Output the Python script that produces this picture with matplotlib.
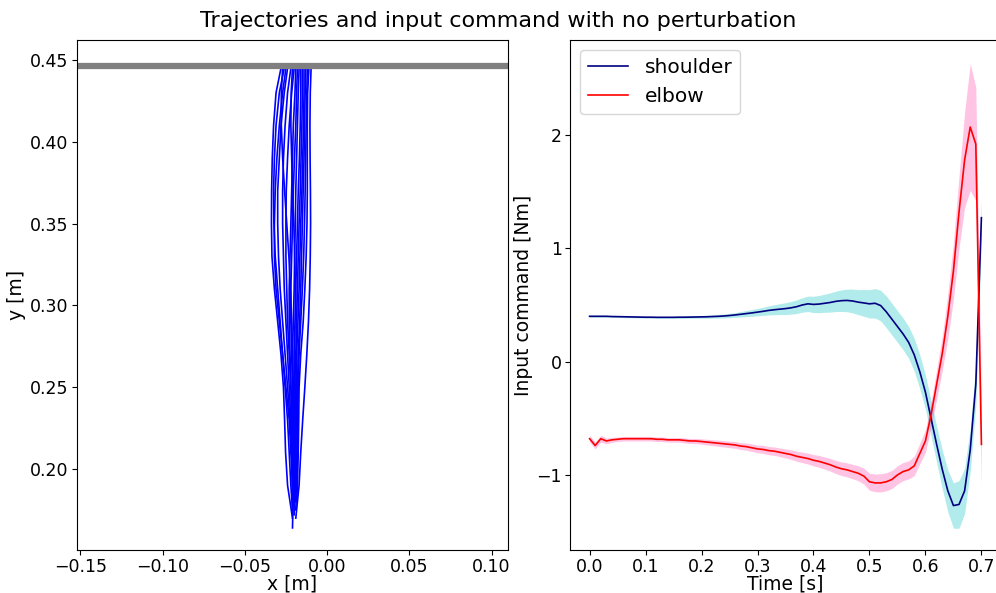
import numpy as np
import matplotlib
matplotlib.use("Agg")
import matplotlib.pyplot as plt

# ---------------- data ----------------
# Left panel: hand trajectories, x [m] read at common y levels [m], plus the start point
y_levels = [0.445, 0.43, 0.41, 0.39, 0.37, 0.35, 0.33, 0.31, 0.29, 0.27, 0.25, 0.23, 0.21, 0.19]
traj_x = [
    [-0.028, -0.031, -0.0325, -0.0333, -0.0337, -0.0338, -0.0335, -0.032, -0.030, -0.028, -0.0265, -0.0258, -0.0252, -0.024],
    [-0.026, -0.029, -0.031, -0.032, -0.0325, -0.0323, -0.0315, -0.030, -0.0285, -0.027, -0.0255, -0.024, -0.023, -0.022],
    [-0.024, -0.026, -0.028, -0.029, -0.030, -0.030, -0.0295, -0.0285, -0.027, -0.0255, -0.024, -0.0225, -0.0215, -0.021],
    [-0.022, -0.024, -0.0255, -0.0265, -0.027, -0.027, -0.0265, -0.026, -0.025, -0.024, -0.023, -0.022, -0.021, -0.0205],
    [-0.020, -0.0215, -0.023, -0.024, -0.0248, -0.025, -0.025, -0.0245, -0.024, -0.023, -0.022, -0.0215, -0.021, -0.021],
    [-0.019, -0.0195, -0.0205, -0.021, -0.0215, -0.022, -0.0225, -0.023, -0.023, -0.0225, -0.022, -0.021, -0.0205, -0.020],
    [-0.018, -0.0185, -0.019, -0.0198, -0.0205, -0.021, -0.0215, -0.022, -0.022, -0.0215, -0.021, -0.0205, -0.020, -0.0195],
    [-0.017, -0.0175, -0.018, -0.0185, -0.019, -0.0193, -0.0197, -0.020, -0.0205, -0.021, -0.021, -0.0205, -0.020, -0.020],
    [-0.016, -0.016, -0.0163, -0.0168, -0.0175, -0.018, -0.0185, -0.019, -0.0195, -0.020, -0.020, -0.020, -0.0198, -0.0195],
    [-0.015, -0.015, -0.0153, -0.0158, -0.0163, -0.017, -0.0175, -0.018, -0.0185, -0.019, -0.0197, -0.0197, -0.0193, -0.019],
    [-0.014, -0.014, -0.0143, -0.0148, -0.0153, -0.016, -0.0165, -0.017, -0.0177, -0.0185, -0.019, -0.019, -0.019, -0.019],
    [-0.013, -0.0133, -0.0137, -0.014, -0.0145, -0.015, -0.0155, -0.016, -0.0167, -0.0175, -0.018, -0.018, -0.0183, -0.019],
    [-0.012, -0.0123, -0.0127, -0.013, -0.0133, -0.0137, -0.0142, -0.015, -0.016, -0.017, -0.0175, -0.018, -0.018, -0.0185],
    [-0.0097, -0.0102, -0.0104, -0.0103, -0.0101, -0.0100, -0.0102, -0.0106, -0.0113, -0.0123, -0.0135, -0.0148, -0.0160, -0.017],
    [-0.011, -0.0118, -0.012, -0.012, -0.012, -0.0122, -0.0127, -0.0135, -0.0145, -0.016, -0.017, -0.0172, -0.0175, -0.018],
    [-0.027, -0.0278, -0.0278, -0.027, -0.0258, -0.0245, -0.0232, -0.0222, -0.0215, -0.021, -0.0205, -0.0202, -0.020, -0.020],
    [-0.021, -0.0218, -0.022, -0.0215, -0.021, -0.0202, -0.0197, -0.0192, -0.0188, -0.0185, -0.0185, -0.0187, -0.019, -0.019],
    [-0.025, -0.027, -0.029, -0.0305, -0.0315, -0.032, -0.032, -0.031, -0.029, -0.027, -0.025, -0.023, -0.022, -0.021],
]
traj_start_x = [-0.021, -0.021, -0.0205, -0.021, -0.0205, -0.020, -0.0195, -0.020, -0.020,
                -0.0195, -0.019, -0.019, -0.019, -0.019, -0.0185, -0.020, -0.0195, -0.021]
traj_start_y = [0.170, 0.175, 0.178, 0.164, 0.180, 0.182, 0.185, 0.172, 0.180,
                0.185, 0.183, 0.180, 0.175, 0.170, 0.180, 0.184, 0.185, 0.172]
target_y = 0.4461

# Right panel: input commands (mean and spread) vs time
time = np.linspace(0.0, 0.70, 71)
shoulder = [0.400, 0.400, 0.400, 0.400, 0.398, 0.397, 0.396, 0.395, 0.394, 0.393,
            0.392, 0.392, 0.391, 0.391, 0.391, 0.391, 0.392, 0.392, 0.393, 0.394,
            0.395, 0.396, 0.398, 0.400, 0.403, 0.407, 0.412, 0.418, 0.424, 0.430,
            0.437, 0.444, 0.452, 0.458, 0.463, 0.468, 0.475, 0.485, 0.500, 0.510,
            0.505, 0.508, 0.515, 0.522, 0.532, 0.538, 0.540, 0.535, 0.525, 0.518,
            0.510, 0.515, 0.495, 0.440, 0.375, 0.310, 0.245, 0.170, 0.060, -0.090,
            -0.270, -0.500, -0.730, -0.950, -1.140, -1.270, -1.260, -1.140, -0.780, -0.200,
            1.270]
shoulder_sd = [0.008, 0.008, 0.008, 0.008, 0.008, 0.008, 0.008, 0.008, 0.008, 0.008,
               0.008, 0.008, 0.008, 0.008, 0.008, 0.008, 0.009, 0.010, 0.010, 0.011,
               0.012, 0.013, 0.014, 0.015, 0.017, 0.019, 0.021, 0.024, 0.027, 0.030,
               0.033, 0.036, 0.040, 0.044, 0.048, 0.052, 0.056, 0.060, 0.064, 0.068,
               0.072, 0.076, 0.080, 0.085, 0.090, 0.095, 0.100, 0.105, 0.110, 0.118,
               0.125, 0.130, 0.135, 0.140, 0.140, 0.140, 0.140, 0.140, 0.145, 0.150,
               0.150, 0.155, 0.160, 0.170, 0.185, 0.200, 0.210, 0.200, 0.190, 0.180,
               0.180]
elbow = [-0.680, -0.740, -0.680, -0.700, -0.690, -0.685, -0.680, -0.680, -0.680, -0.680,
         -0.680, -0.680, -0.685, -0.685, -0.690, -0.690, -0.690, -0.695, -0.700, -0.700,
         -0.705, -0.710, -0.715, -0.720, -0.725, -0.730, -0.735, -0.745, -0.750, -0.760,
         -0.770, -0.775, -0.785, -0.790, -0.800, -0.810, -0.820, -0.835, -0.845, -0.855,
         -0.870, -0.880, -0.895, -0.910, -0.930, -0.945, -0.955, -0.970, -0.985, -1.010,
         -1.060, -1.070, -1.070, -1.060, -1.040, -1.000, -0.970, -0.955, -0.920, -0.810,
         -0.700, -0.470, -0.200, 0.070, 0.400, 0.800, 1.320, 1.780, 2.070, 1.920,
         -0.730]
elbow_sd = [0.030, 0.030, 0.030, 0.025, 0.022, 0.020, 0.020, 0.020, 0.020, 0.020,
            0.020, 0.020, 0.020, 0.020, 0.020, 0.020, 0.021, 0.022, 0.022, 0.023,
            0.024, 0.025, 0.026, 0.027, 0.028, 0.029, 0.030, 0.031, 0.032, 0.033,
            0.034, 0.035, 0.036, 0.037, 0.038, 0.040, 0.042, 0.044, 0.046, 0.048,
            0.050, 0.052, 0.054, 0.056, 0.058, 0.060, 0.062, 0.064, 0.066, 0.070,
            0.075, 0.078, 0.080, 0.080, 0.080, 0.080, 0.080, 0.080, 0.085, 0.090,
            0.100, 0.110, 0.130, 0.150, 0.200, 0.250, 0.320, 0.420, 0.560, 0.500,
            0.380]

# ---------------- figure ----------------
W, H = 996, 593
fig = plt.figure(figsize=(W / 100, H / 100), dpi=100)

def pos(l, r, t, b):
    return [l / W, 1 - b / H, (r - l) / W, (b - t) / H]

ax1 = fig.add_axes(pos(77, 508, 40, 550))
ax2 = fig.add_axes(pos(570, 1001, 40, 550))

for xs, sx, sy in zip(traj_x, traj_start_x, traj_start_y):
    ax1.plot(list(xs) + [sx], list(y_levels) + [sy], color="blue", lw=1.2)
ax1.axhline(target_y, color="grey", lw=4.5)
ax1.set_xlim(-0.152, 0.110)
ax1.set_ylim(0.1505, 0.4622)
ax1.set_xticks([-0.15, -0.10, -0.05, 0.00, 0.05, 0.10])
ax1.set_yticks([0.20, 0.25, 0.30, 0.35, 0.40, 0.45])
ax1.set_xlabel("x [m]", fontsize=13.5, labelpad=-1)
ax1.set_ylabel("y [m]", fontsize=13.5, labelpad=3)

sh = np.array(shoulder); shs = np.array(shoulder_sd)
el = np.array(elbow); els = np.array(elbow_sd)
ax2.fill_between(time, sh - shs, sh + shs, color="c", alpha=0.3, lw=0)
ax2.fill_between(time, el - els, el + els, color="deeppink", alpha=0.25, lw=0)
ax2.plot(time, sh, color="navy", lw=1.2, label="shoulder")
ax2.plot(time, el, color="red", lw=1.2, label="elbow")
ax2.set_xlim(-0.035, 0.735)
ax2.set_ylim(-1.662, 2.838)
ax2.set_xticks([0.0, 0.1, 0.2, 0.3, 0.4, 0.5, 0.6, 0.7])
ax2.set_yticks([-1, 0, 1, 2])
ax2.set_xlabel("Time [s]", fontsize=13.5, labelpad=-1)
ax2.set_ylabel("Input command [Nm]", fontsize=13.5, labelpad=2)
ax2.legend(loc="upper left", fontsize=14.5)

for ax in (ax1, ax2):
    ax.tick_params(labelsize=12.5, length=3.5, pad=2.5)

fig.suptitle("Trajectories and input command with no perturbation", fontsize=16, y=0.982)

fig.savefig("out.png", dpi=100)
